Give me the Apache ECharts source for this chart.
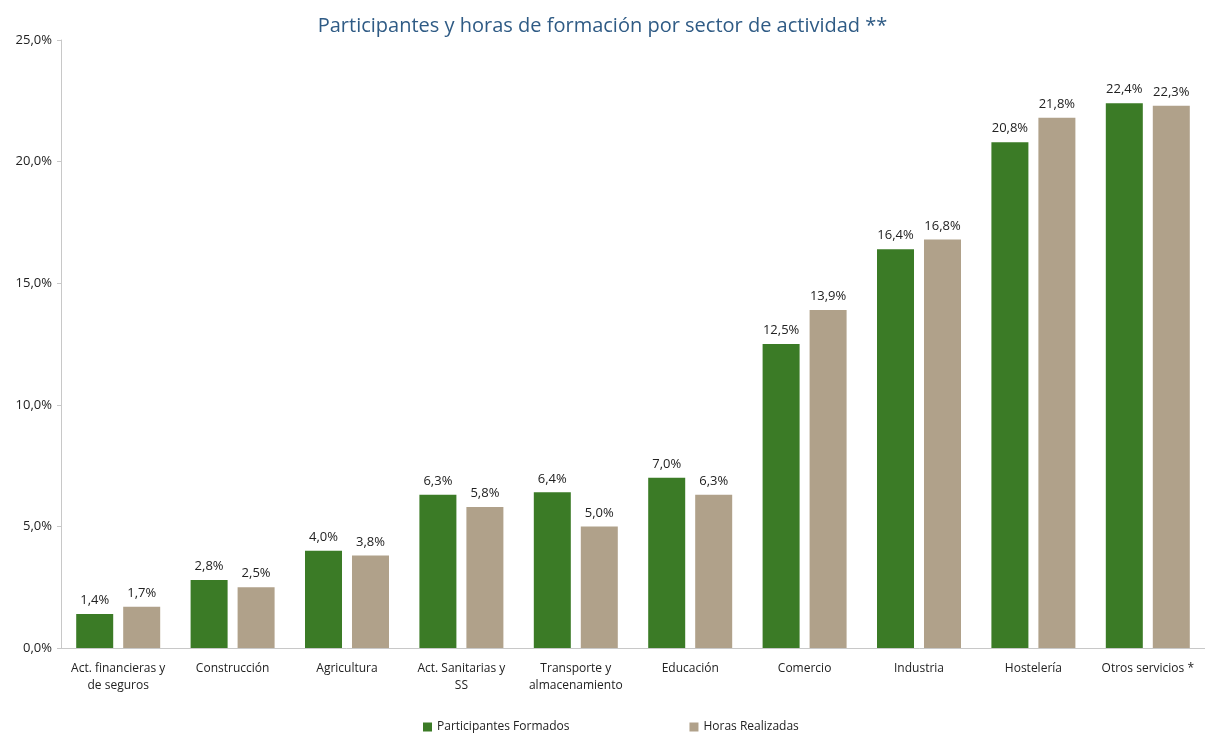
<!DOCTYPE html>
<html>
<head>
<meta charset="utf-8">
<script src="https://cdn.jsdelivr.net/npm/echarts@6/dist/echarts.min.js"></script>
<style>
    html, body { margin: 0; padding: 0; background: #fff; }
    #chart { width: 1205px; height: 738px; }
</style>
</head>
<body>
<div id="chart"></div>
<script>
const categories = [
    'Act. financieras y\nde seguros', 'Construcción', 'Agricultura', 'Act. Sanitarias y\nSS',
    'Transporte y\nalmacenamiento', 'Educación', 'Comercio', 'Industria', 'Hostelería', 'Otros servicios *'
]
const participantes = [1.4, 2.8, 4.0, 6.3, 6.4, 7.0, 12.5, 16.4, 20.8, 22.4]
const horas = [1.7, 2.5, 3.8, 5.8, 5.0, 6.3, 13.9, 16.8, 21.8, 22.3]
const yTicks = [0, 5, 10, 15, 20, 25]

const fmt = v => v.toFixed(1).replace('.', ',') + '%'
const font = 'Open Sans'

const chart = echarts.init(document.getElementById('chart'))
chart.setOption({
    title: {
        text: 'Participantes y horas de formación por sector de actividad **',
        left: 'center',
        top: 11,
        textStyle: { fontFamily: font, fontSize: 20, fontWeight: 'normal', color: '#2f5b85' }
    },
    legend: {
        bottom: 0,
        left: 418,
        itemGap: 120,
        itemWidth: 9,
        itemHeight: 9,
        icon: 'rect',
        textStyle: { fontFamily: font, fontSize: 12, color: '#222' },
        data: ['Participantes Formados', 'Horas Realizadas']
    },
    grid: { left: 61, top: 40, right: -10, bottom: 90 },
    xAxis: {
        type: 'category',
        data: categories,
        axisLine: { lineStyle: { color: '#c8c8c8' } },
        axisTick: { show: false },
        axisLabel: { fontFamily: font, fontSize: 12, color: '#222', interval: 0, margin: 12, lineHeight: 17 }
    },
    yAxis: {
        type: 'value',
        min: yTicks[0],
        max: yTicks[yTicks.length - 1],
        interval: 5,
        splitLine: { show: false },
        axisLine: { show: true, lineStyle: { color: '#c8c8c8' } },
        axisTick: { show: true, length: 4, lineStyle: { color: '#c8c8c8' } },
        axisLabel: { fontFamily: font, fontSize: 13, color: '#222', margin: 9, formatter: fmt }
    },
    series: [
        {
            name: 'Participantes Formados',
            type: 'bar',
            data: participantes,
            barWidth: 37,
            barGap: '27%',
            itemStyle: { color: '#3b7b26' },
            label: { show: true, position: 'top', distance: 7, fontFamily: font, fontSize: 13, color: '#222', formatter: p => fmt(p.value) }
        },
        {
            name: 'Horas Realizadas',
            type: 'bar',
            data: horas,
            barWidth: 37,
            itemStyle: { color: '#b0a18a' },
            label: { show: true, position: 'top', distance: 7, fontFamily: font, fontSize: 13, color: '#222', formatter: p => fmt(p.value) }
        }
    ]
})
</script>
</body>
</html>
